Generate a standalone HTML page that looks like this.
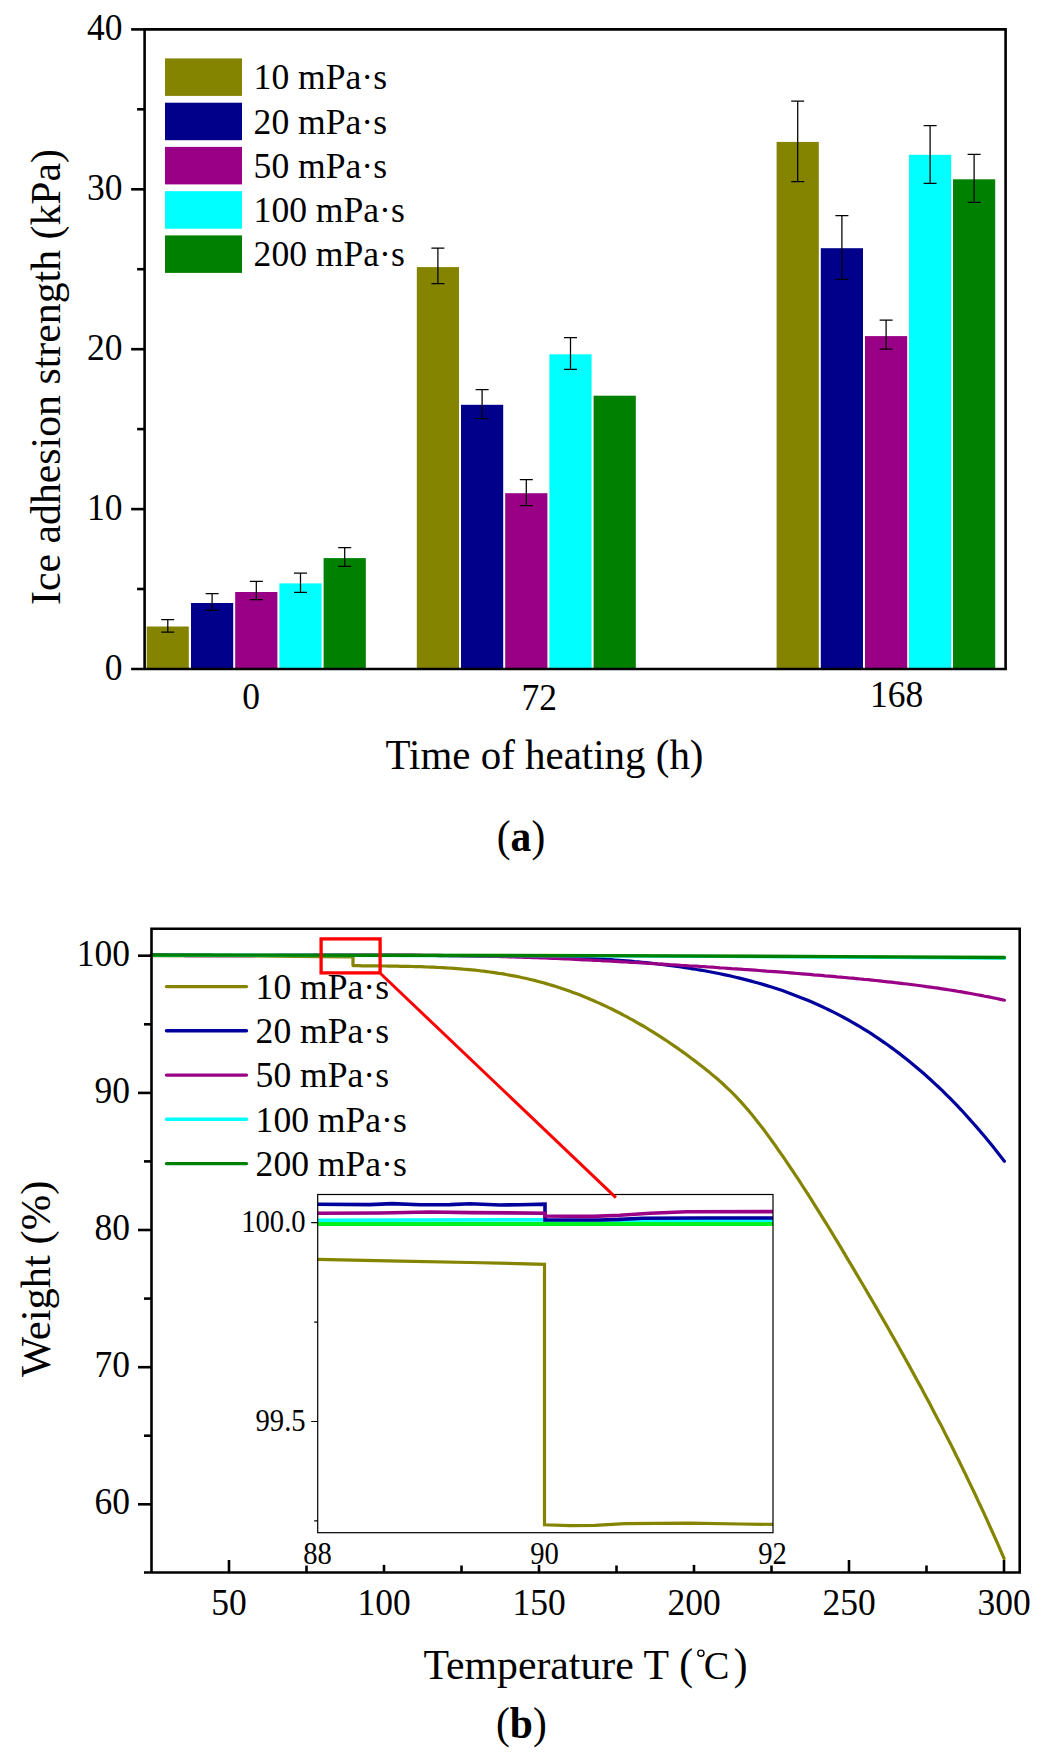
<!DOCTYPE html>
<html>
<head>
<meta charset="utf-8">
<title>Ice adhesion strength and TGA weight curves</title>
<style>
html,body{margin:0;padding:0;background:#fff;}
body{width:1050px;height:1758px;overflow:hidden;font-family:"Liberation Serif",serif;}
svg{display:block;}
svg text{font-family:"Liberation Serif",serif;fill:#000;}
</style>
</head>
<body>
<svg width="1050" height="1758" viewBox="0 0 1050 1758">
<rect x="0" y="0" width="1050" height="1758" fill="#fff"/>
<g id="chartA">
<rect x="146.7" y="626.5" width="42.1" height="42.5" fill="#848400"/>
<rect x="191.0" y="603.0" width="42.2" height="66.0" fill="#00008B"/>
<rect x="235.2" y="592.0" width="42.2" height="77.0" fill="#990085"/>
<rect x="279.4" y="583.4" width="42.2" height="85.6" fill="#00FFFF"/>
<rect x="323.6" y="558.1" width="42.2" height="110.9" fill="#008000"/>
<rect x="416.8" y="267.1" width="42.2" height="401.9" fill="#848400"/>
<rect x="461.0" y="404.8" width="42.2" height="264.2" fill="#00008B"/>
<rect x="505.2" y="493.2" width="42.2" height="175.8" fill="#990085"/>
<rect x="549.4" y="354.3" width="42.2" height="314.7" fill="#00FFFF"/>
<rect x="593.6" y="395.7" width="42.2" height="273.3" fill="#008000"/>
<rect x="776.6" y="141.9" width="42.2" height="527.1" fill="#848400"/>
<rect x="820.8" y="248.2" width="42.2" height="420.8" fill="#00008B"/>
<rect x="865.0" y="336.1" width="42.2" height="332.9" fill="#990085"/>
<rect x="909.0" y="154.8" width="42.2" height="514.2" fill="#00FFFF"/>
<rect x="953.0" y="179.3" width="42.2" height="489.7" fill="#008000"/>
<path d="M167.8 619.5V632.2M161.2 619.5H174.2M161.2 632.2H174.2" stroke="#000" stroke-width="1.25" fill="none"/>
<path d="M212.1 593.5V610.4M205.6 593.5H218.6M205.6 610.4H218.6" stroke="#000" stroke-width="1.25" fill="none"/>
<path d="M256.3 581.4V599.5M249.8 581.4H262.8M249.8 599.5H262.8" stroke="#000" stroke-width="1.25" fill="none"/>
<path d="M300.5 573.2V592.3M294.0 573.2H307.0M294.0 592.3H307.0" stroke="#000" stroke-width="1.25" fill="none"/>
<path d="M344.7 547.5V566.3M338.2 547.5H351.2M338.2 566.3H351.2" stroke="#000" stroke-width="1.25" fill="none"/>
<path d="M437.9 248.1V283.5M431.4 248.1H444.4M431.4 283.5H444.4" stroke="#000" stroke-width="1.25" fill="none"/>
<path d="M482.1 389.5V418.5M475.6 389.5H488.6M475.6 418.5H488.6" stroke="#000" stroke-width="1.25" fill="none"/>
<path d="M526.3 479.6V505.6M519.8 479.6H532.8M519.8 505.6H532.8" stroke="#000" stroke-width="1.25" fill="none"/>
<path d="M570.5 337.5V369.4M564.0 337.5H577.0M564.0 369.4H577.0" stroke="#000" stroke-width="1.25" fill="none"/>
<path d="M797.7 101.0V181.5M791.2 101.0H804.2M791.2 181.5H804.2" stroke="#000" stroke-width="1.25" fill="none"/>
<path d="M841.9 215.5V279.4M835.4 215.5H848.4M835.4 279.4H848.4" stroke="#000" stroke-width="1.25" fill="none"/>
<path d="M886.1 320.2V349.2M879.6 320.2H892.6M879.6 349.2H892.6" stroke="#000" stroke-width="1.25" fill="none"/>
<path d="M930.1 125.6V183.3M923.6 125.6H936.6M923.6 183.3H936.6" stroke="#000" stroke-width="1.25" fill="none"/>
<path d="M974.1 154.3V202.3M967.6 154.3H980.6M967.6 202.3H980.6" stroke="#000" stroke-width="1.25" fill="none"/>
<path d="M144.6 669.0V29.35H1005.6V669.0" stroke="#000" stroke-width="2.6" fill="none" stroke-linejoin="miter"/>
<path d="M131.1 669.0H1006.9" stroke="#000" stroke-width="2.6" fill="none"/>
<path d="M137.1 589.0H144.6" stroke="#000" stroke-width="2.6" fill="none"/>
<path d="M131.1 509.1H144.6" stroke="#000" stroke-width="2.6" fill="none"/>
<path d="M137.1 429.1H144.6" stroke="#000" stroke-width="2.6" fill="none"/>
<path d="M131.1 349.2H144.6" stroke="#000" stroke-width="2.6" fill="none"/>
<path d="M137.1 269.2H144.6" stroke="#000" stroke-width="2.6" fill="none"/>
<path d="M131.1 189.3H144.6" stroke="#000" stroke-width="2.6" fill="none"/>
<path d="M137.1 109.3H144.6" stroke="#000" stroke-width="2.6" fill="none"/>
<path d="M131.1 29.4H144.6" stroke="#000" stroke-width="2.6" fill="none"/>
<text transform="translate(122.6 679.5) scale(1 1.075)" text-anchor="end" font-size="35.5" >0</text>
<text transform="translate(122.6 519.6) scale(1 1.075)" text-anchor="end" font-size="35.5" >10</text>
<text transform="translate(122.6 359.7) scale(1 1.075)" text-anchor="end" font-size="35.5" >20</text>
<text transform="translate(122.6 199.8) scale(1 1.075)" text-anchor="end" font-size="35.5" >30</text>
<text transform="translate(122.6 39.9) scale(1 1.075)" text-anchor="end" font-size="35.5" >40</text>
<text transform="translate(251.0 708.6) scale(1 1.075)" text-anchor="middle" font-size="35.5" >0</text>
<text transform="translate(539.2 710.0) scale(1 1.075)" text-anchor="middle" font-size="35.5" >72</text>
<text transform="translate(896.5 707.4) scale(1 1.075)" text-anchor="middle" font-size="35.5" >168</text>
<text transform="translate(544.5 768.6) scale(1 1.045)" text-anchor="middle" font-size="40.8" textLength="318" lengthAdjust="spacingAndGlyphs" >Time of heating (h)</text>
<text transform="translate(60.2 377) rotate(-90) scale(1 1.03)" text-anchor="middle" font-size="41.4" textLength="456" lengthAdjust="spacingAndGlyphs" >Ice adhesion strength (kPa)</text>
<rect x="165" y="58.4" width="77" height="37.5" fill="#848400"/>
<text transform="translate(253.6 89.2)" text-anchor="start" font-size="35" textLength="133.4" lengthAdjust="spacingAndGlyphs" >10 mPa·s</text>
<rect x="165" y="102.7" width="77" height="37.5" fill="#00008B"/>
<text transform="translate(253.6 133.5)" text-anchor="start" font-size="35" textLength="133.4" lengthAdjust="spacingAndGlyphs" >20 mPa·s</text>
<rect x="165" y="146.9" width="77" height="37.5" fill="#990085"/>
<text transform="translate(253.6 177.7)" text-anchor="start" font-size="35" textLength="133.4" lengthAdjust="spacingAndGlyphs" >50 mPa·s</text>
<rect x="165" y="191.2" width="77" height="37.5" fill="#00FFFF"/>
<text transform="translate(253.6 222.0)" text-anchor="start" font-size="35" textLength="151.2" lengthAdjust="spacingAndGlyphs" >100 mPa·s</text>
<rect x="165" y="235.4" width="77" height="37.5" fill="#008000"/>
<text transform="translate(253.6 266.2)" text-anchor="start" font-size="35" textLength="151.2" lengthAdjust="spacingAndGlyphs" >200 mPa·s</text>
<text transform="translate(521.0 851.4) scale(1 1.05)" text-anchor="middle" font-size="41.5" >(<tspan font-weight="bold">a</tspan>)</text>
</g>
<g id="chartB">
<path d="M151.3 955.6L250.0 955.8L320.0 956.6L353.0 957.0L353.0 965.6L356.0 965.7L358.9 965.7L361.9 965.8L364.9 965.8L367.9 965.8L370.8 965.9L373.8 965.9L376.8 965.9L379.8 966.0L382.7 966.0L385.7 966.0L388.7 966.1L391.6 966.1L394.6 966.2L397.6 966.2L400.6 966.3L403.5 966.3L406.5 966.4L409.5 966.4L412.5 966.5L415.4 966.6L418.4 966.7L421.4 966.7L424.4 966.8L427.3 967.0L430.3 967.1L433.3 967.2L436.2 967.3L439.2 967.5L442.2 967.6L445.2 967.8L448.1 968.0L451.1 968.2L454.1 968.4L457.1 968.6L460.0 968.8L463.0 969.1L466.0 969.3L468.9 969.6L471.9 969.9L474.9 970.2L477.9 970.5L480.8 970.9L483.8 971.2L486.8 971.6L489.8 972.0L492.7 972.4L495.7 972.8L498.7 973.3L501.7 973.7L504.6 974.2L507.6 974.8L510.6 975.3L513.5 975.8L516.5 976.4L519.5 977.0L522.5 977.7L525.4 978.3L528.4 979.0L531.4 979.7L534.4 980.4L537.3 981.2L540.3 982.0L543.3 982.8L546.2 983.6L549.2 984.5L552.2 985.4L555.2 986.3L558.1 987.2L561.1 988.2L564.1 989.2L567.1 990.2L570.0 991.3L573.0 992.4L576.0 993.5L579.0 994.6L581.9 995.8L584.9 997.0L587.9 998.2L590.8 999.5L593.8 1000.7L596.8 1002.1L599.8 1003.4L602.7 1004.8L605.7 1006.1L608.7 1007.6L611.7 1009.0L614.6 1010.5L617.6 1012.0L620.6 1013.5L623.5 1015.1L626.5 1016.6L629.5 1018.3L632.5 1019.9L635.4 1021.6L638.4 1023.3L641.4 1025.0L644.4 1026.7L647.3 1028.5L650.3 1030.3L653.3 1032.2L656.3 1034.1L659.2 1035.9L662.2 1037.9L665.2 1039.8L668.1 1041.8L671.1 1043.8L674.1 1045.9L677.1 1047.9L680.0 1050.0L683.0 1052.1L686.0 1054.3L689.0 1056.5L691.9 1058.7L694.9 1060.9L697.9 1063.2L700.8 1065.5L703.8 1067.8L706.8 1070.2L709.8 1072.6L712.7 1075.1L715.7 1077.6L718.7 1080.1L721.7 1082.8L724.6 1085.5L727.6 1088.3L730.6 1091.1L733.6 1094.1L736.5 1097.2L739.5 1100.3L742.5 1103.6L745.4 1107.0L748.4 1110.4L751.4 1114.0L754.4 1117.7L757.3 1121.4L760.3 1125.2L763.3 1129.1L766.3 1133.1L769.2 1137.2L772.2 1141.3L775.2 1145.4L778.1 1149.7L781.1 1153.9L784.1 1158.2L787.1 1162.6L790.0 1167.0L793.0 1171.4L796.0 1175.9L799.0 1180.4L801.9 1185.0L804.9 1189.6L807.9 1194.2L810.9 1198.9L813.8 1203.6L816.8 1208.3L819.8 1213.1L822.7 1217.9L825.7 1222.7L828.7 1227.5L831.7 1232.4L834.6 1237.3L837.6 1242.2L840.6 1247.1L843.6 1252.1L846.5 1257.1L849.5 1262.1L852.5 1267.1L855.4 1272.1L858.4 1277.1L861.4 1282.2L864.4 1287.2L867.3 1292.3L870.3 1297.4L873.3 1302.5L876.3 1307.6L879.2 1312.8L882.2 1317.9L885.2 1323.1L888.2 1328.3L891.1 1333.5L894.1 1338.8L897.1 1344.0L900.0 1349.3L903.0 1354.6L906.0 1360.0L909.0 1365.4L911.9 1370.8L914.9 1376.2L917.9 1381.7L920.9 1387.1L923.8 1392.7L926.8 1398.2L929.8 1403.8L932.7 1409.5L935.7 1415.2L938.7 1420.9L941.7 1426.6L944.6 1432.4L947.6 1438.2L950.6 1444.1L953.6 1450.0L956.5 1456.0L959.5 1462.0L962.5 1468.1L965.5 1474.2L968.4 1480.4L971.4 1486.6L974.4 1492.8L977.3 1499.1L980.3 1505.5L983.3 1511.9L986.3 1518.4L989.2 1524.9L992.2 1531.5L995.2 1538.2L998.2 1544.9L1001.1 1551.7L1004.1 1558.5" stroke="#848400" stroke-width="3.2" fill="none" stroke-linejoin="round" stroke-linecap="round"/>
<path d="M151.3 954.9L155.2 954.9L159.1 955.0L163.0 955.0L166.9 955.0L170.8 955.1L174.7 955.1L178.6 955.1L182.5 955.1L186.4 955.1L190.3 955.2L194.1 955.2L198.0 955.2L201.9 955.2L205.8 955.2L209.7 955.2L213.6 955.3L217.5 955.3L221.4 955.3L225.3 955.3L229.2 955.3L233.1 955.3L237.0 955.3L240.9 955.3L244.8 955.3L248.7 955.3L252.6 955.3L256.5 955.3L260.4 955.3L264.3 955.3L268.2 955.3L272.1 955.4L276.0 955.4L279.8 955.4L283.7 955.4L287.6 955.4L291.5 955.4L295.4 955.4L299.3 955.4L303.2 955.4L307.1 955.4L311.0 955.3L314.9 955.3L318.8 955.3L322.7 955.3L326.6 955.3L330.5 955.3L334.4 955.3L338.3 955.3L342.2 955.3L346.1 955.3L350.0 955.3L353.9 955.3L357.8 955.3L361.7 955.4L365.5 955.4L369.4 955.4L373.3 955.4L377.2 955.4L381.1 955.4L385.0 955.4L388.9 955.4L392.8 955.4L396.7 955.4L400.6 955.4L404.5 955.4L408.4 955.4L412.3 955.4L416.2 955.5L420.1 955.5L424.0 955.5L427.9 955.5L431.8 955.5L435.7 955.5L439.6 955.6L443.5 955.6L447.4 955.6L451.2 955.6L455.1 955.6L459.0 955.7L462.9 955.7L466.8 955.7L470.7 955.8L474.6 955.8L478.5 955.8L482.4 955.9L486.3 955.9L490.2 956.0L494.1 956.0L498.0 956.0L501.9 956.1L505.8 956.1L509.7 956.2L513.6 956.2L517.5 956.3L521.4 956.4L525.3 956.4L529.2 956.5L533.1 956.6L536.9 956.6L540.8 956.7L544.7 956.8L548.6 956.9L552.5 957.0L556.4 957.1L560.3 957.3L564.2 957.4L568.1 957.5L572.0 957.7L575.9 957.8L579.8 958.0L583.7 958.2L587.6 958.4L591.5 958.6L595.4 958.8L599.3 959.0L603.2 959.2L607.1 959.5L611.0 959.7L614.9 960.0L618.8 960.3L622.6 960.6L626.5 960.9L630.4 961.2L634.3 961.6L638.2 961.9L642.1 962.3L646.0 962.7L649.9 963.1L653.8 963.5L657.7 964.0L661.6 964.4L665.5 964.9L669.4 965.4L673.3 965.9L677.2 966.5L681.1 967.0L685.0 967.6L688.9 968.2L692.8 968.8L696.7 969.5L700.6 970.1L704.5 970.8L708.3 971.5L712.2 972.2L716.1 973.0L720.0 973.8L723.9 974.6L727.8 975.4L731.7 976.3L735.6 977.2L739.5 978.1L743.4 979.1L747.3 980.1L751.2 981.1L755.1 982.2L759.0 983.3L762.9 984.4L766.8 985.6L770.7 986.8L774.6 988.0L778.5 989.3L782.4 990.6L786.3 992.0L790.2 993.4L794.0 994.9L797.9 996.4L801.8 997.9L805.7 999.5L809.6 1001.1L813.5 1002.8L817.4 1004.5L821.3 1006.3L825.2 1008.1L829.1 1010.0L833.0 1011.9L836.9 1013.9L840.8 1015.9L844.7 1018.0L848.6 1020.2L852.5 1022.3L856.4 1024.6L860.3 1026.9L864.2 1029.3L868.1 1031.7L872.0 1034.2L875.9 1036.8L879.7 1039.4L883.6 1042.1L887.5 1044.8L891.4 1047.6L895.3 1050.5L899.2 1053.4L903.1 1056.4L907.0 1059.5L910.9 1062.7L914.8 1065.9L918.7 1069.2L922.6 1072.5L926.5 1076.0L930.4 1079.5L934.3 1083.1L938.2 1086.7L942.1 1090.4L946.0 1094.3L949.9 1098.1L953.8 1102.1L957.7 1106.2L961.6 1110.3L965.4 1114.5L969.3 1118.8L973.2 1123.2L977.1 1127.6L981.0 1132.2L984.9 1136.8L988.8 1141.5L992.7 1146.3L996.6 1151.2L1000.5 1156.2L1004.4 1161.3" stroke="#00009C" stroke-width="3.2" fill="none" stroke-linejoin="round" stroke-linecap="round"/>
<path d="M151.3 955.3L155.2 955.3L159.1 955.4L163.0 955.4L166.9 955.4L170.8 955.5L174.7 955.5L178.6 955.5L182.5 955.5L186.4 955.6L190.3 955.6L194.1 955.6L198.0 955.6L201.9 955.6L205.8 955.6L209.7 955.6L213.6 955.6L217.5 955.6L221.4 955.6L225.3 955.6L229.2 955.6L233.1 955.6L237.0 955.6L240.9 955.6L244.8 955.6L248.7 955.6L252.6 955.6L256.5 955.5L260.4 955.5L264.3 955.5L268.2 955.5L272.1 955.5L276.0 955.4L279.8 955.4L283.7 955.4L287.6 955.4L291.5 955.4L295.4 955.3L299.3 955.3L303.2 955.3L307.1 955.3L311.0 955.3L314.9 955.2L318.8 955.2L322.7 955.2L326.6 955.2L330.5 955.2L334.4 955.1L338.3 955.1L342.2 955.1L346.1 955.1L350.0 955.1L353.9 955.1L357.8 955.1L361.7 955.1L365.5 955.1L369.4 955.1L373.3 955.1L377.2 955.1L381.1 955.1L385.0 955.1L388.9 955.1L392.8 955.1L396.7 955.1L400.6 955.1L404.5 955.1L408.4 955.2L412.3 955.2L416.2 955.2L420.1 955.2L424.0 955.3L427.9 955.3L431.8 955.3L435.7 955.4L439.6 955.4L443.5 955.5L447.4 955.5L451.2 955.6L455.1 955.7L459.0 955.7L462.9 955.8L466.8 955.8L470.7 955.9L474.6 956.0L478.5 956.1L482.4 956.2L486.3 956.2L490.2 956.3L494.1 956.4L498.0 956.5L501.9 956.6L505.8 956.7L509.7 956.9L513.6 957.0L517.5 957.1L521.4 957.2L525.3 957.3L529.2 957.5L533.1 957.6L536.9 957.7L540.8 957.9L544.7 958.0L548.6 958.2L552.5 958.3L556.4 958.5L560.3 958.7L564.2 958.8L568.1 959.0L572.0 959.2L575.9 959.4L579.8 959.6L583.7 959.8L587.6 959.9L591.5 960.1L595.4 960.3L599.3 960.5L603.2 960.8L607.1 961.0L611.0 961.2L614.9 961.4L618.8 961.6L622.6 961.8L626.5 962.0L630.4 962.3L634.3 962.5L638.2 962.7L642.1 962.9L646.0 963.2L649.9 963.4L653.8 963.6L657.7 963.9L661.6 964.1L665.5 964.3L669.4 964.6L673.3 964.8L677.2 965.0L681.1 965.3L685.0 965.5L688.9 965.8L692.8 966.0L696.7 966.2L700.6 966.5L704.5 966.7L708.3 967.0L712.2 967.2L716.1 967.5L720.0 967.8L723.9 968.0L727.8 968.3L731.7 968.6L735.6 968.8L739.5 969.1L743.4 969.4L747.3 969.6L751.2 969.9L755.1 970.2L759.0 970.5L762.9 970.8L766.8 971.1L770.7 971.3L774.6 971.6L778.5 971.9L782.4 972.2L786.3 972.5L790.2 972.8L794.0 973.2L797.9 973.5L801.8 973.8L805.7 974.1L809.6 974.4L813.5 974.8L817.4 975.1L821.3 975.4L825.2 975.8L829.1 976.1L833.0 976.4L836.9 976.8L840.8 977.1L844.7 977.5L848.6 977.9L852.5 978.2L856.4 978.6L860.3 979.0L864.2 979.4L868.1 979.7L872.0 980.1L875.9 980.5L879.7 980.9L883.6 981.4L887.5 981.8L891.4 982.2L895.3 982.7L899.2 983.1L903.1 983.6L907.0 984.0L910.9 984.5L914.8 985.0L918.7 985.5L922.6 986.0L926.5 986.6L930.4 987.1L934.3 987.7L938.2 988.2L942.1 988.8L946.0 989.4L949.9 990.0L953.8 990.6L957.7 991.3L961.6 991.9L965.4 992.6L969.3 993.3L973.2 994.0L977.1 994.7L981.0 995.4L984.9 996.2L988.8 996.9L992.7 997.7L996.6 998.5L1000.5 999.4L1004.4 1000.2" stroke="#990085" stroke-width="3.2" fill="none" stroke-linejoin="round" stroke-linecap="round"/>
<path d="M151.3 955.3L600.0 955.8L1004.4 958.2" stroke="#00FFFF" stroke-width="3.2" fill="none" stroke-linejoin="round" stroke-linecap="round"/>
<path d="M151.3 955.0L600.0 955.6L840.0 956.6L1004.4 957.5" stroke="#008000" stroke-width="3.4" fill="none" stroke-linejoin="round" stroke-linecap="round"/>
<rect x="321.1" y="938.9" width="59" height="34" fill="none" stroke="#FF0000" stroke-width="3.3"/>
<path d="M166.5 986.6H246.5" stroke="#848400" stroke-width="3.4" stroke-linecap="round" fill="none"/>
<text transform="translate(255.6 998.8)" text-anchor="start" font-size="35" textLength="133.4" lengthAdjust="spacingAndGlyphs" >10 mPa·s</text>
<path d="M166.5 1030.8H246.5" stroke="#00009C" stroke-width="3.4" stroke-linecap="round" fill="none"/>
<text transform="translate(255.6 1043.0)" text-anchor="start" font-size="35" textLength="133.4" lengthAdjust="spacingAndGlyphs" >20 mPa·s</text>
<path d="M166.5 1075.1H246.5" stroke="#990085" stroke-width="3.4" stroke-linecap="round" fill="none"/>
<text transform="translate(255.6 1087.3)" text-anchor="start" font-size="35" textLength="133.4" lengthAdjust="spacingAndGlyphs" >50 mPa·s</text>
<path d="M166.5 1119.3H246.5" stroke="#00FFFF" stroke-width="3.4" stroke-linecap="round" fill="none"/>
<text transform="translate(255.6 1131.5)" text-anchor="start" font-size="35" textLength="151.2" lengthAdjust="spacingAndGlyphs" >100 mPa·s</text>
<path d="M166.5 1163.6H246.5" stroke="#008000" stroke-width="3.4" stroke-linecap="round" fill="none"/>
<text transform="translate(255.6 1175.8)" text-anchor="start" font-size="35" textLength="151.2" lengthAdjust="spacingAndGlyphs" >200 mPa·s</text>
<rect x="317.7" y="1194.5" width="455.3" height="338.2" fill="#fff" stroke="none"/>
<path d="M317.7 1259.3L400.0 1261.2L470.0 1262.5L544.5 1264.3L544.5 1524.8L570.0 1525.6L595.0 1525.4L625.0 1523.6L690.0 1523.2L740.0 1524.0L773.0 1524.4" stroke="#848400" stroke-width="3.2" fill="none" stroke-linejoin="miter" stroke-linecap="butt"/>
<path d="M317.7 1220.3L546.0 1219.8L547.0 1220.8L773.0 1220.8" stroke="#00FFFF" stroke-width="3.6" fill="none" stroke-linejoin="miter" stroke-linecap="butt"/>
<path d="M317.7 1204.3L370.0 1204.6L392.0 1203.6L420.0 1204.8L450.0 1204.6L470.0 1203.8L500.0 1205.0L520.0 1204.8L545.0 1204.2L545.0 1220.0L600.0 1220.0L620.0 1219.4L643.0 1218.3L700.0 1218.0L773.0 1218.0" stroke="#00009C" stroke-width="3.6" fill="none" stroke-linejoin="miter" stroke-linecap="butt"/>
<path d="M317.7 1213.3L380.0 1213.0L430.0 1212.0L470.0 1212.6L545.0 1213.2L545.0 1216.0L593.0 1216.4L620.0 1215.2L650.0 1213.2L686.7 1211.7L773.0 1211.6" stroke="#990085" stroke-width="3.6" fill="none" stroke-linejoin="miter" stroke-linecap="butt"/>
<path d="M317.7 1223.9L773.0 1223.9" stroke="#00F020" stroke-width="4.0" fill="none" stroke-linejoin="miter" stroke-linecap="butt"/>
<rect x="317.7" y="1194.5" width="455.3" height="338.2" fill="none" stroke="#000" stroke-width="1.2"/>
<path d="M380.5 973.5L615.9 1197.6" stroke="#FF0000" stroke-width="3.0" fill="none"/>
<path d="M311.2 1222.7H317.7M311.2 1421.5H317.7M314.2 1322.1H317.7M314.2 1520.9H317.7" stroke="#000" stroke-width="1.2" fill="none"/>
<text transform="translate(305.6 1231.8) scale(1 1.13)" text-anchor="end" font-size="28.6" >100.0</text>
<text transform="translate(305.6 1430.6) scale(1 1.13)" text-anchor="end" font-size="28.6" >99.5</text>
<text transform="translate(317.5 1563.6) scale(1 1.13)" text-anchor="middle" font-size="28.6" >88</text>
<text transform="translate(544.5 1563.6) scale(1 1.13)" text-anchor="middle" font-size="28.6" >90</text>
<text transform="translate(772.5 1563.6) scale(1 1.13)" text-anchor="middle" font-size="28.6" >92</text>
<path d="M151.5 1572.5V928.8H1019.7V1572.5" stroke="#000" stroke-width="2.6" fill="none"/>
<path d="M144.0 1572.5H1021.0" stroke="#000" stroke-width="2.6" fill="none"/>
<path d="M138.0 1504.3H151.5" stroke="#000" stroke-width="2.6" fill="none"/>
<path d="M144.0 1435.7H151.5" stroke="#000" stroke-width="2.6" fill="none"/>
<path d="M138.0 1367.2H151.5" stroke="#000" stroke-width="2.6" fill="none"/>
<path d="M144.0 1298.6H151.5" stroke="#000" stroke-width="2.6" fill="none"/>
<path d="M138.0 1230.0H151.5" stroke="#000" stroke-width="2.6" fill="none"/>
<path d="M144.0 1161.4H151.5" stroke="#000" stroke-width="2.6" fill="none"/>
<path d="M138.0 1092.9H151.5" stroke="#000" stroke-width="2.6" fill="none"/>
<path d="M144.0 1024.3H151.5" stroke="#000" stroke-width="2.6" fill="none"/>
<path d="M138.0 955.7H151.5" stroke="#000" stroke-width="2.6" fill="none"/>
<text transform="translate(129.9 1514.2) scale(1 1.075)" text-anchor="end" font-size="35.5" >60</text>
<text transform="translate(129.9 1377.1) scale(1 1.075)" text-anchor="end" font-size="35.5" >70</text>
<text transform="translate(129.9 1239.9) scale(1 1.075)" text-anchor="end" font-size="35.5" >80</text>
<text transform="translate(129.9 1102.8) scale(1 1.075)" text-anchor="end" font-size="35.5" >90</text>
<text transform="translate(129.9 965.6) scale(1 1.075)" text-anchor="end" font-size="35.5" >100</text>
<path d="M229.0 1572.5v-12.5" stroke="#000" stroke-width="2.6" fill="none"/>
<path d="M306.5 1572.5v-7.0" stroke="#000" stroke-width="2.6" fill="none"/>
<path d="M384.0 1572.5v-7.6" stroke="#000" stroke-width="2.6" fill="none"/>
<path d="M461.5 1572.5v-7.0" stroke="#000" stroke-width="2.6" fill="none"/>
<path d="M539.0 1572.5v-7.6" stroke="#000" stroke-width="2.6" fill="none"/>
<path d="M616.5 1572.5v-7.0" stroke="#000" stroke-width="2.6" fill="none"/>
<path d="M694.0 1572.5v-7.6" stroke="#000" stroke-width="2.6" fill="none"/>
<path d="M771.5 1572.5v-7.0" stroke="#000" stroke-width="2.6" fill="none"/>
<path d="M849.0 1572.5v-12.5" stroke="#000" stroke-width="2.6" fill="none"/>
<path d="M926.5 1572.5v-7.0" stroke="#000" stroke-width="2.6" fill="none"/>
<path d="M1004.0 1572.5v-12.5" stroke="#000" stroke-width="2.6" fill="none"/>
<text transform="translate(229.0 1614.7) scale(1 1.075)" text-anchor="middle" font-size="35.5" >50</text>
<text transform="translate(384.0 1614.7) scale(1 1.075)" text-anchor="middle" font-size="35.5" >100</text>
<text transform="translate(539.0 1614.7) scale(1 1.075)" text-anchor="middle" font-size="35.5" >150</text>
<text transform="translate(694.0 1614.7) scale(1 1.075)" text-anchor="middle" font-size="35.5" >200</text>
<text transform="translate(849.0 1614.7) scale(1 1.075)" text-anchor="middle" font-size="35.5" >250</text>
<text transform="translate(1004.0 1614.7) scale(1 1.075)" text-anchor="middle" font-size="35.5" >300</text>
<text transform="translate(423.4 1679.2) scale(1 1.045)" text-anchor="start" font-size="41.2" textLength="245.6" lengthAdjust="spacingAndGlyphs" >Temperature T</text>
<text transform="translate(679.2 1679.2) scale(1 1.045)" text-anchor="start" font-size="41.4" >(</text>
<text transform="translate(733.8 1679.2) scale(1 1.045)" text-anchor="start" font-size="41.4" >)</text>
<circle cx="700.9" cy="1653.2" r="3.1" fill="none" stroke="#000" stroke-width="1.4"/>
<text transform="translate(703.8 1679.3) scale(1 1.02)" text-anchor="start" font-size="39.5" textLength="25.6" lengthAdjust="spacingAndGlyphs" >C</text>
<text transform="translate(49.8 1278.8) rotate(-90) scale(1 1.03)" text-anchor="middle" font-size="41.4" textLength="196.4" lengthAdjust="spacingAndGlyphs" >Weight (%)</text>
<text transform="translate(521.4 1738.0) scale(1 1.05)" text-anchor="middle" font-size="41.5" >(<tspan font-weight="bold">b</tspan>)</text>
</g>
</svg>
</body>
</html>
